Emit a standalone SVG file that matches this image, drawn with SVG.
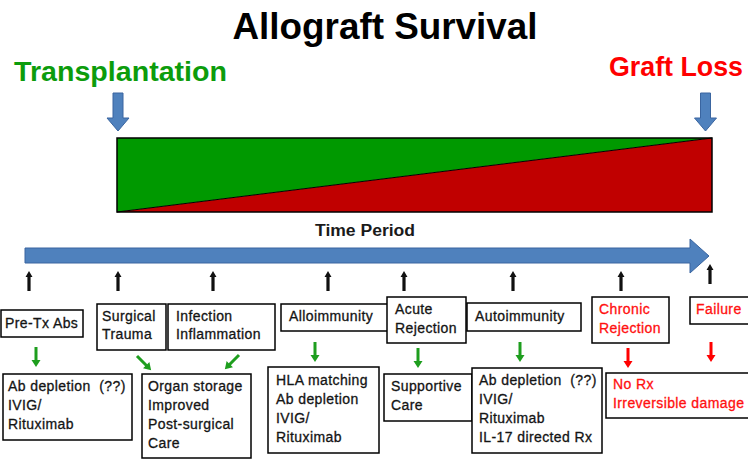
<svg xmlns="http://www.w3.org/2000/svg" width="748" height="460" viewBox="0 0 748 460">
<style>
.t{font-family:"Liberation Sans",Arial,sans-serif;font-size:14px;letter-spacing:0.4px;fill:#141414;stroke:#141414;stroke-width:0.3}
.r{fill:#FF1010;stroke:#FF1010}
.box{fill:#fff;stroke:#000;stroke-width:1.5}
.blue{fill:#4F81BD;stroke:#3A65A0;stroke-width:1}
.g{fill:#1E9E1E}
.rd{fill:#FF0000}
.k{fill:#111}
</style>
<defs>
<path id="dn" d="M-1.5,0 H1.5 V13 H4.5 L0,20 L-4.5,13 H-1.5 Z"/>
<path id="up" d="M-1.6,20 V6 H-3.5 L0,0 L3.5,6 H1.6 V20 Z"/>
</defs>
<rect width="748" height="460" fill="#fff"/>
<g id="title">
<text x="385" y="39" text-anchor="middle" font-family="Liberation Sans,Arial,sans-serif" font-weight="bold" font-size="36" textLength="305" lengthAdjust="spacingAndGlyphs" fill="#000">Allograft Survival</text>
</g>
<g id="transplantation">
<text x="14" y="81" font-family="Liberation Sans,Arial,sans-serif" font-weight="bold" font-size="28" textLength="213" lengthAdjust="spacingAndGlyphs" fill="#0C9C0C">Transplantation</text>
</g>
<g id="graftloss">
<text x="609" y="76" font-family="Liberation Sans,Arial,sans-serif" font-weight="bold" font-size="28" textLength="134" lengthAdjust="spacingAndGlyphs" fill="#FF0000">Graft Loss</text>
</g>
<g id="survival-bar">
<polygon points="117,138 712,138 117,212" fill="#009900"/>
<polygon points="712,138 712,212 117,212" fill="#C00000"/>
<line x1="117" y1="212" x2="712" y2="138" stroke="#000" stroke-width="1"/>
<rect x="117" y="138" width="595" height="74" fill="none" stroke="#000" stroke-width="1.5"/>
</g>
<g id="timeperiod">
<text x="365" y="236" text-anchor="middle" font-family="Liberation Sans,Arial,sans-serif" font-weight="bold" font-size="16" fill="#1a1a1a" textLength="100" lengthAdjust="spacingAndGlyphs">Time Period</text>
</g>
<g id="connectors">
<path class="blue" d="M113,93 H123 V118 H129 L118,131 L107,118 H113 Z"/>
<path class="blue" d="M700.5,93 H710.5 V118 H716.5 L705.5,131 L694.5,118 H700.5 Z"/>
<path class="blue" d="M25,248 H690 V239 L709,256 L690,273 V263 H25 Z"/>
<use href="#up" class="k" x="29" y="271"/>
<use href="#up" class="k" x="118" y="271"/>
<use href="#up" class="k" x="213" y="271"/>
<use href="#up" class="k" x="328" y="271"/>
<use href="#up" class="k" x="404" y="271"/>
<use href="#up" class="k" x="513" y="271"/>
<use href="#up" class="k" x="621" y="271"/>
<use href="#up" class="k" x="710" y="264"/>
<use href="#dn" class="g" transform="translate(36,347)"/>
<use href="#dn" class="g" transform="translate(315,342)"/>
<use href="#dn" class="g" transform="translate(418,348)"/>
<use href="#dn" class="g" transform="translate(520,342)"/>
<use href="#dn" class="rd" transform="translate(628,348)"/>
<use href="#dn" class="rd" transform="translate(711,342)"/>
<use href="#dn" class="g" transform="translate(137,356) rotate(-45)"/>
<use href="#dn" class="g" transform="translate(239,355) rotate(45)"/>
</g>
<g id="pretx">
<rect class="box" x="1" y="310" width="82" height="27"/>
<text class="t" x="5" y="328">Pre-Tx Abs</text>
</g>
<g id="surgical">
<rect class="box" x="97" y="304" width="69" height="46"/>
<text class="t" x="102" y="321">Surgical</text>
<text class="t" x="102" y="339">Trauma</text>
</g>
<g id="infection">
<rect class="box" x="168" y="304" width="107" height="46"/>
<text class="t" x="176" y="321">Infection</text>
<text class="t" x="176" y="339">Inflammation</text>
</g>
<g id="alloimmunity">
<rect class="box" x="281" y="304" width="107" height="27"/>
<text class="t" x="289" y="321">Alloimmunity</text>
</g>
<g id="acute">
<rect class="box" x="387" y="297" width="79" height="46"/>
<text class="t" x="395" y="314">Acute</text>
<text class="t" x="395" y="333">Rejection</text>
</g>
<g id="autoimmunity">
<rect class="box" x="467" y="303" width="114" height="28"/>
<text class="t" x="475" y="321">Autoimmunity</text>
</g>
<g id="chronic">
<rect class="box" x="592" y="297" width="77" height="46"/>
<text class="t r" x="599" y="314">Chronic</text>
<text class="t r" x="599" y="333">Rejection</text>
</g>
<g id="failure">
<rect class="box" x="690" y="297" width="70" height="27"/>
<text class="t r" x="696" y="314">Failure</text>
</g>
<g id="rx-pretx">
<rect class="box" x="3" y="374" width="129" height="66"/>
<text class="t" x="8" y="391" xml:space="preserve">Ab depletion  (??)</text>
<text class="t" x="8" y="410">IVIG/</text>
<text class="t" x="8" y="429">Rituximab</text>
</g>
<g id="rx-surgical">
<rect class="box" x="142" y="374" width="109" height="84"/>
<text class="t" x="148" y="391">Organ storage</text>
<text class="t" x="148" y="410">Improved</text>
<text class="t" x="148" y="429">Post-surgical</text>
<text class="t" x="148" y="448">Care</text>
</g>
<g id="rx-allo">
<rect class="box" x="268" y="367" width="111" height="86"/>
<text class="t" x="276" y="385">HLA matching</text>
<text class="t" x="276" y="404">Ab depletion</text>
<text class="t" x="276" y="423">IVIG/</text>
<text class="t" x="276" y="442">Rituximab</text>
</g>
<g id="rx-acute">
<rect class="box" x="384" y="374" width="88" height="47"/>
<text class="t" x="391" y="391">Supportive</text>
<text class="t" x="391" y="410">Care</text>
</g>
<g id="rx-auto">
<rect class="box" x="472" y="368" width="130" height="85"/>
<text class="t" x="479" y="385" xml:space="preserve">Ab depletion  (??)</text>
<text class="t" x="479" y="404">IVIG/</text>
<text class="t" x="479" y="423">Rituximab</text>
<text class="t" x="479" y="442">IL-17 directed Rx</text>
</g>
<g id="rx-chronic">
<rect class="box" x="606" y="373" width="150" height="45"/>
<text class="t r" x="613" y="389">No Rx</text>
<text class="t r" x="613" y="408">Irreversible damage</text>
</g>
</svg>
